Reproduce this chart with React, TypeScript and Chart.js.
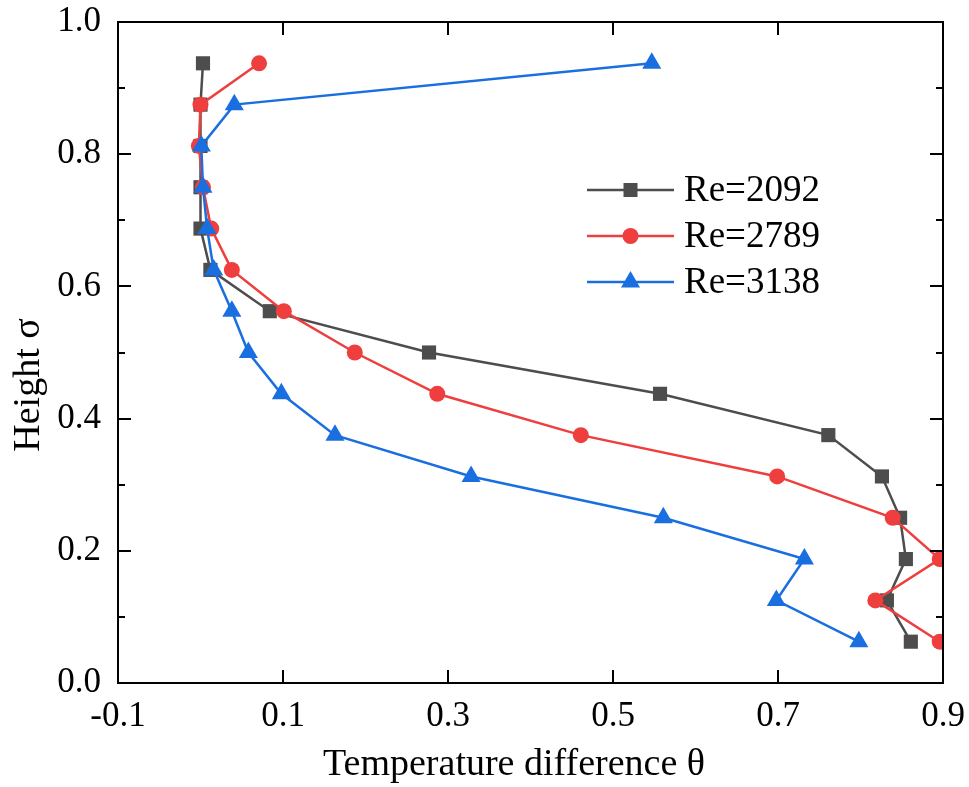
import React, { useEffect, useRef } from "react";
import { Chart, registerables } from "chart.js";

Chart.register(...registerables);

// ---- data ----
const sigma = [0.9375, 0.875, 0.8125, 0.75, 0.6875, 0.625, 0.5625, 0.5, 0.4375, 0.375, 0.3125, 0.25, 0.1875, 0.125, 0.0625];
const theta2092 = [0.003, 0.0, 0.0, 0.0, 0.0, 0.012, 0.084, 0.277, 0.557, 0.761, 0.826, 0.848, 0.855, 0.832, 0.861];
const theta2789 = [0.071, 0.0, -0.002, 0.003, 0.013, 0.038, 0.101, 0.187, 0.287, 0.461, 0.699, 0.839, 0.896, 0.818, 0.896];
const theta3138 = [0.547, 0.041, 0.001, 0.003, 0.008, 0.016, 0.038, 0.058, 0.098, 0.163, 0.328, 0.561, 0.732, 0.698, 0.798];
const seriesLabels = ["Re=2092", "Re=2789", "Re=3138"];
const seriesColors = ["#4d4d4d", "#ef3e3e", "#1a6fe0"];
const seriesStyles = ["rect", "circle", "triangle"];
const xTicks = [-0.1, 0.1, 0.3, 0.5, 0.7, 0.9];
const xTickLabels = ["-0.1", "0.1", "0.3", "0.5", "0.7", "0.9"];
const yTicks = [0, 0.2, 0.4, 0.6, 0.8, 1.0];
const yTickLabels = ["0.0", "0.2", "0.4", "0.6", "0.8", "1.0"];
const yMinorTicks = [0.1, 0.3, 0.5, 0.7, 0.9];
const xTitle = "Temperature difference θ";
const yTitle = "Height σ";

const FONT = '"Liberation Serif", "Times New Roman", serif';

function drawMarker(ctx: CanvasRenderingContext2D, style: string, x: number, y: number, color: string) {
  ctx.save();
  ctx.fillStyle = color;
  ctx.beginPath();
  if (style === "rect") {
    ctx.rect(x - 7, y - 7, 14, 14);
  } else if (style === "circle") {
    ctx.arc(x, y, 8, 0, Math.PI * 2);
  } else {
    const r = 11;
    ctx.moveTo(x, y - r);
    ctx.lineTo(x + r * Math.sin((2 * Math.PI) / 3), y - r * Math.cos((2 * Math.PI) / 3));
    ctx.lineTo(x + r * Math.sin((4 * Math.PI) / 3), y - r * Math.cos((4 * Math.PI) / 3));
    ctx.closePath();
  }
  ctx.fill();
  ctx.restore();
}

const framePlugin = {
  id: "frameAndLegend",
  afterDatasetsDraw(chart: any) {
    const { ctx, chartArea: a, scales } = chart;
    const xs = scales.x;
    const ys = scales.y;
    ctx.save();
    ctx.strokeStyle = "#000";
    ctx.lineWidth = 2;
    ctx.lineCap = "butt";
    ctx.strokeRect(a.left, a.top, a.right - a.left, a.bottom - a.top);
    const major = 13;
    const minor = 7;
    ctx.beginPath();
    xTicks.forEach((v) => {
      const px = Math.round(xs.getPixelForValue(v));
      ctx.moveTo(px, a.bottom);
      ctx.lineTo(px, a.bottom - major);
      ctx.moveTo(px, a.top);
      ctx.lineTo(px, a.top + major);
    });
    yTicks.forEach((v) => {
      const py = Math.round(ys.getPixelForValue(v));
      ctx.moveTo(a.left, py);
      ctx.lineTo(a.left + major, py);
      ctx.moveTo(a.right, py);
      ctx.lineTo(a.right - major, py);
    });
    yMinorTicks.forEach((v) => {
      const py = Math.round(ys.getPixelForValue(v));
      ctx.moveTo(a.left, py);
      ctx.lineTo(a.left + minor, py);
      ctx.moveTo(a.right, py);
      ctx.lineTo(a.right - minor, py);
    });
    ctx.stroke();
    ctx.restore();
  },
  afterDraw(chart: any) {
    const { ctx } = chart;
    ctx.save();
    // axis titles
    ctx.fillStyle = "#000";
    ctx.font = `38px ${FONT}`;
    ctx.textAlign = "center";
    ctx.textBaseline = "middle";
    ctx.fillText(xTitle, 514, 765);
    ctx.save();
    ctx.translate(29, 385);
    ctx.rotate(-Math.PI / 2);
    ctx.fillText(yTitle, 0, 0);
    ctx.restore();

    // legend
    const lx1 = 587;
    const lx2 = 674;
    const rows = [190, 236, 282];
    chart.data.datasets.forEach((ds: any, i: number) => {
      const y = rows[i];
      ctx.strokeStyle = ds.borderColor;
      ctx.lineWidth = 2.5;
      ctx.beginPath();
      ctx.moveTo(lx1, y);
      ctx.lineTo(lx2, y);
      ctx.stroke();
      drawMarker(ctx, seriesStyles[i], (lx1 + lx2) / 2, y, ds.backgroundColor);
      ctx.fillStyle = "#000";
      ctx.font = `37px ${FONT}`;
      ctx.textAlign = "left";
      ctx.textBaseline = "middle";
      ctx.fillText(ds.label, 684, y + 1);
    });
    ctx.restore();
  },
};

function zeroPad(s: any) {
  s.paddingTop = 0;
  s.paddingBottom = 0;
  s.paddingLeft = 0;
  s.paddingRight = 0;
}

export default function App() {
  const ref = useRef<HTMLCanvasElement | null>(null);

  useEffect(() => {
    document.body.style.margin = "0";
    const canvas = ref.current;
    if (!canvas) return;
    const allTheta = [theta2092, theta2789, theta3138];
    const radii = [10, 8, 11];
    const datasets = allTheta.map((arr, i) => ({
      label: seriesLabels[i],
      data: arr.map((t, j) => ({ x: t, y: sigma[j] })),
      borderColor: seriesColors[i],
      backgroundColor: seriesColors[i],
      pointBackgroundColor: seriesColors[i],
      pointBorderColor: seriesColors[i],
      pointBorderWidth: 0,
      pointStyle: seriesStyles[i],
      pointRadius: radii[i],
      borderWidth: 2.5,
      showLine: true,
      fill: false,
      tension: 0,
      clip: 0,
      order: 2 - i,
    }));

    const chart = new Chart(canvas, {
      type: "scatter",
      data: { datasets },
      options: {
        responsive: false,
        animation: false,
        devicePixelRatio: 1,
        layout: { padding: { left: 0, right: 26, top: 22, bottom: 0 } },
        plugins: { legend: { display: false }, tooltip: { enabled: false } },
        scales: {
          x: {
            type: "linear",
            min: -0.1,
            max: 0.9,
            grid: { display: false, drawTicks: false },
            border: { display: false },
            afterFit: (s: any) => {
              s.height = 104;
              zeroPad(s);
            },
            afterBuildTicks: (s: any) => {
              s.ticks = xTicks.map((v) => ({ value: v }));
            },
            ticks: {
              color: "#000",
              font: { family: FONT, size: 35 },
              padding: 13,
              maxRotation: 0,
              autoSkip: false,
              callback: (v: any) => {
                const idx = xTicks.findIndex((t) => Math.abs(t - v) < 1e-9);
                return idx >= 0 ? xTickLabels[idx] : "";
              },
            },
          },
          y: {
            type: "linear",
            min: 0,
            max: 1,
            grid: { display: false, drawTicks: false },
            border: { display: false },
            afterFit: (s: any) => {
              s.width = 118;
              zeroPad(s);
            },
            afterBuildTicks: (s: any) => {
              s.ticks = yTicks.map((v) => ({ value: v }));
            },
            ticks: {
              color: "#000",
              font: { family: FONT, size: 35 },
              padding: 17,
              autoSkip: false,
              callback: (v: any) => {
                const idx = yTicks.findIndex((t) => Math.abs(t - v) < 1e-9);
                return idx >= 0 ? yTickLabels[idx] : "";
              },
            },
          },
        },
      },
      plugins: [framePlugin],
    } as any);

    return () => chart.destroy();
  }, []);

  return (
    <div style={{ width: 969, height: 787, background: "#fff" }}>
      <canvas ref={ref} width={969} height={787} style={{ display: "block", width: 969, height: 787 }} />
    </div>
  );
}
